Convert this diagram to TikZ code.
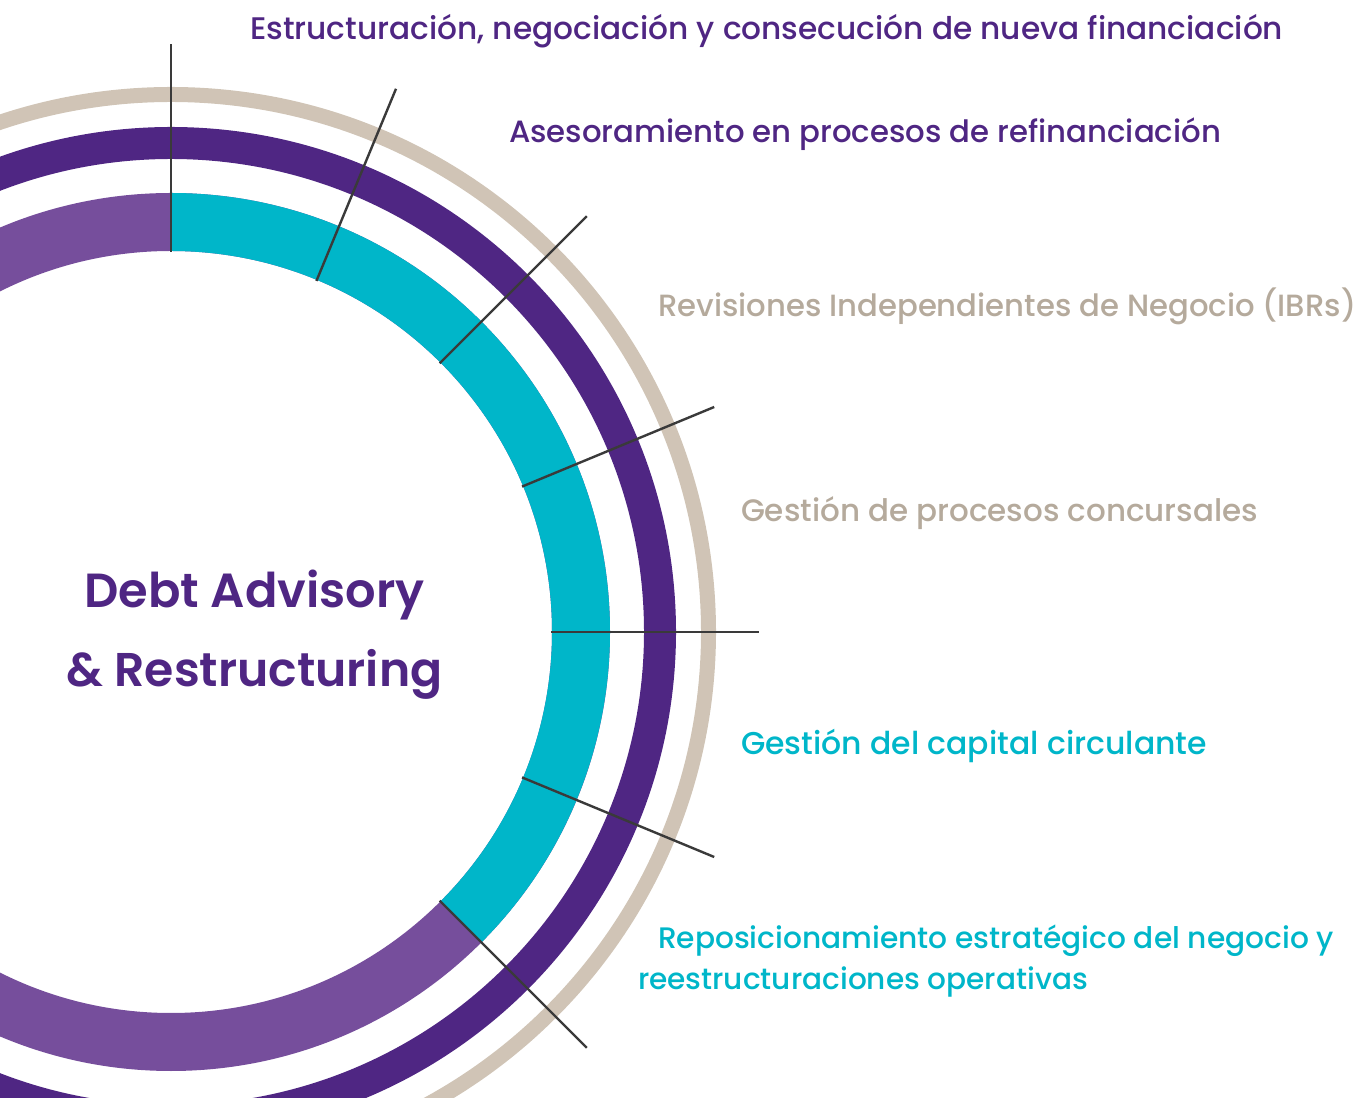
\documentclass[tikz,border=0pt]{standalone}
\usepackage{fontspec}
\setmainfont{Poppins}[UprightFont=* Medium, BoldFont=* SemiBold]
\definecolor{dpurple}{HTML}{4F2683}
\definecolor{lpurple}{HTML}{764E9C}
\definecolor{cyanc}{HTML}{00B6C9}
\definecolor{beige}{HTML}{D0C4B6}
\definecolor{beigetext}{HTML}{B5AA9C}
\definecolor{linec}{HTML}{3A3A3A}
\begin{document}
\begin{tikzpicture}[x=1pt,y=1pt,
  labeltext/.style={anchor=base west, inner sep=0pt, outer sep=0pt},
  titletext/.style={anchor=base, inner sep=0pt, outer sep=0pt, text=dpurple, font=\bfseries},
  tickline/.style={draw=linec, line width=2.4pt}]
\useasboundingbox (0,0) rectangle (1364,1097);
\clip (0,0) rectangle (1364,1097);
\coordinate (C) at (171,465);
% rings
\draw[beige, line width=15pt] (C) circle[radius=537.5];
\draw[dpurple, line width=32pt] (C) circle[radius=489];
\draw[lpurple, line width=58pt] (C) circle[radius=410];
\draw[cyanc, line width=58pt] ([shift={(90:410)}]C) arc[start angle=90, end angle=-45, radius=410];
% radial tick lines
\foreach \ang [count=\i] in {90,67.5,45,22.5,0,-22.5,-45}{
  \coordinate (in\i) at ([shift={(\ang:380)}]C);
  \coordinate (out\i) at ([shift={(\ang:588)}]C);
  \draw[tickline] (in\i) -- (out\i);
}
% labels
\node[labeltext, text=dpurple] (t1) at (250,1057) {\resizebox{1033pt}{!}{Estructuración, negociación y consecución de nueva financiación}};
\node[labeltext, text=dpurple] (t2) at (509,954) {\resizebox{712pt}{!}{Asesoramiento en procesos de refinanciación}};
\node[labeltext, text=beigetext] (t3) at (658,780) {\resizebox{698pt}{!}{Revisiones Independientes de Negocio (IBRs)}};
\node[labeltext, text=beigetext] (t4) at (741,575) {\resizebox{517pt}{!}{Gestión de procesos concursales}};
\node[labeltext, text=cyanc] (t5) at (741,342) {\resizebox{466pt}{!}{Gestión del capital circulante}};
\node[labeltext, text=cyanc] (t6) at (658,149) {\resizebox{676pt}{!}{Reposicionamiento estratégico del negocio y}};
\node[labeltext, text=cyanc] (t7) at (638,108) {\resizebox{450pt}{!}{reestructuraciones operativas}};
% title
\node[titletext] (h1) at (254.5,489) {\resizebox{340pt}{!}{Debt Advisory}};
\node[titletext] (h2) at (254.5,410) {\resizebox{376pt}{!}{\& Restructuring}};
\end{tikzpicture}
\end{document}
